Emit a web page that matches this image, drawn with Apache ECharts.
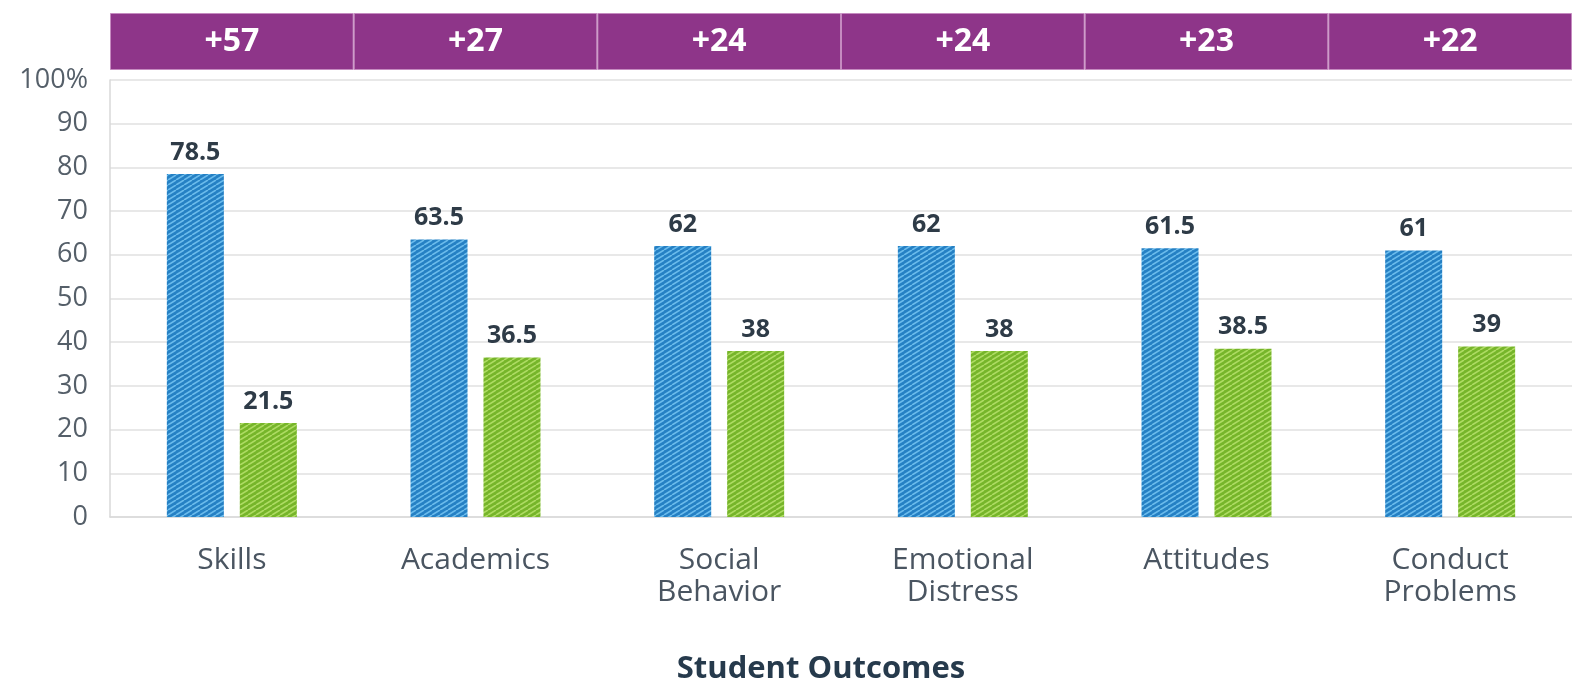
<!DOCTYPE html>
<html>
<head>
<meta charset="utf-8">
<script src="https://cdn.jsdelivr.net/npm/echarts@6/dist/echarts.min.js"></script>
<style>
html,body{margin:0;padding:0;background:#fff;}
#chart{width:1572px;height:685px;}
</style>
</head>
<body>
<div id="chart"></div>
<script>
const categories = ['Skills', 'Academics', 'Social\nBehavior', 'Emotional\nDistress', 'Attitudes', 'Conduct\nProblems'];
const blueValues = [78.5, 63.5, 62, 62, 61.5, 61];
const greenValues = [21.5, 36.5, 38, 38, 38.5, 39];
const gapLabels = ['+57', '+27', '+24', '+24', '+23', '+22'];
const yTicks = [0, 10, 20, 30, 40, 50, 60, 70, 80, 90, 100];

function stripe(base, line) {
  const c = document.createElement('canvas');
  c.width = 8; c.height = 5;
  const g = c.getContext('2d');
  g.fillStyle = base; g.fillRect(0, 0, 8, 5);
  g.strokeStyle = line; g.lineWidth = 1.6;
  [-8, 0, 8].forEach(function (o) {
    g.beginPath(); g.moveTo(o, 5); g.lineTo(o + 8, 0); g.stroke();
  });
  return { image: c, repeat: 'repeat' };
}

const FONT = '"Open Sans", "Noto Sans", sans-serif';
const chart = echarts.init(document.getElementById('chart'), null, { renderer: 'canvas' });

const option = {
  animation: false,
  backgroundColor: '#fff',
  textStyle: { fontFamily: FONT },
  grid: [
    { left: 110, right: 0, top: 80, bottom: 168, containLabel: false, outerBoundsMode: 'none' },
    { left: 110, right: 0, top: 13, height: 57, containLabel: false, outerBoundsMode: 'none' }
  ],
  xAxis: [
    {
      type: 'category', gridIndex: 0, data: categories,
      axisLine: { show: true, lineStyle: { color: '#d9d9d9', width: 1.5 } },
      axisTick: { show: false },
      axisLabel: {
        fontSize: 30, color: '#4a5561', fontFamily: FONT, lineHeight: 32,
        margin: 27, interval: 0
      },
      name: 'Student Outcomes', nameLocation: 'middle', nameGap: 137,
      nameTextStyle: { fontSize: 31, fontWeight: 'bold', color: '#263a4c', fontFamily: FONT, padding: [0, 40, 0, 0] }
    },
    {
      type: 'category', gridIndex: 1, data: categories,
      axisLine: { show: false }, axisTick: { show: false }, axisLabel: { show: false }
    }
  ],
  yAxis: [
    {
      type: 'value', gridIndex: 0, min: 0, max: 100, interval: 10,
      axisLine: { show: true, lineStyle: { color: '#d9d9d9', width: 1.5 } },
      axisTick: { show: false },
      splitLine: { show: true, lineStyle: { color: '#e0e0e0', width: 1.5 } },
      axisLabel: {
        fontSize: 27, color: '#555f69', fontFamily: FONT, margin: 22,
        formatter: function (v) { return v === 100 ? '100%' : String(v); }
      }
    },
    {
      type: 'value', gridIndex: 1, min: 0, max: 1, show: false
    }
  ],
  series: [
    {
      type: 'bar', xAxisIndex: 0, yAxisIndex: 0, data: blueValues,
      barWidth: 57, barGap: '28%',
      itemStyle: { color: stripe('#2580c4', '#6bbbec') },
      label: {
        show: true, position: 'top', distance: 9, fontSize: 25, fontWeight: 'bold',
        color: '#2e3b47', fontFamily: FONT
      }
    },
    {
      type: 'bar', xAxisIndex: 0, yAxisIndex: 0, data: greenValues,
      barWidth: 57, barGap: '28%',
      itemStyle: { color: stripe('#76b52a', '#aedb64') },
      label: {
        show: true, position: 'top', distance: 9, fontSize: 25, fontWeight: 'bold',
        color: '#2e3b47', fontFamily: FONT
      }
    },
    {
      type: 'bar', xAxisIndex: 1, yAxisIndex: 1,
      data: gapLabels.map(function () { return 1; }),
      barCategoryGap: 0, barWidth: '100%',
      itemStyle: { color: '#8e3589', borderColor: '#c58bc0', borderWidth: 1 },
      label: {
        show: true, position: 'inside', fontSize: 32, fontWeight: 'bold', color: '#ffffff',
        fontFamily: FONT,
        formatter: function (p) { return gapLabels[p.dataIndex]; }
      },
      silent: true
    }
  ]
};
chart.setOption(option);
</script>
</body>
</html>
